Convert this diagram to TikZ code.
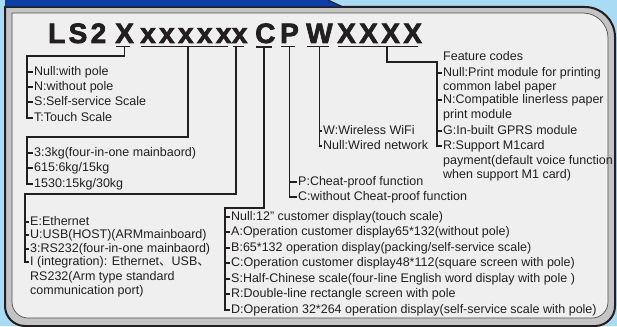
\documentclass[tikz,border=0pt]{standalone}
\usepackage{fontspec}
\setmainfont{Liberation Sans}
\newfontfamily\titlefont{Liberation Sans}[BoldFeatures={FakeBold=2.5, LetterSpace=12}]
\newfontfamily\cjk{Noto Sans CJK SC}
\usetikzlibrary{calc}

\definecolor{sky}{HTML}{A9DCF4}
\definecolor{tabblue}{HTML}{0B3EA6}
\definecolor{band}{HTML}{C4C4C4}
\definecolor{panel}{HTML}{EFEFEF}
\definecolor{ink}{HTML}{231F20}

\tikzset{
  code/.style={anchor=base west, inner xsep=0pt, inner ysep=3.5pt, text=ink,
    font=\titlefont\bfseries\fontsize{28}{30}\selectfont},
  item/.style={anchor=west, inner xsep=1pt, inner ysep=0pt, text=ink,
    text height=9pt, text depth=2.5pt, font=\fontsize{12.5}{15}\selectfont},
  wire/.style={draw=ink, line width=1.1pt},
}

\begin{document}
\begin{tikzpicture}[x=1pt,y=-1pt]
\useasboundingbox[fill=sky] (0,0) rectangle (617,326);
% frame
\draw[fill=band, draw=ink, line width=2pt] (5,7) -- (585,7) arc[start angle=270,end angle=360,radius=30]
  -- (615,306) arc[start angle=0,end angle=90,radius=20] -- (25,326) arc[start angle=90,end angle=180,radius=20] -- cycle;
\draw[fill=panel, draw=ink!80, line width=0.7pt] (12,13) -- (583,13) arc[start angle=270,end angle=360,radius=25]
  -- (608,302) arc[start angle=0,end angle=90,radius=16] -- (28,318) arc[start angle=90,end angle=180,radius=16] -- cycle;
\fill[tabblue] (5,0) -- (328,0) -- (343,6.5) -- (5,6.5) -- cycle;
\draw[ink, line width=1pt] (328,0) -- (343,7);

% model code
\node[code] (cLS) at (48,43) {LS2};
\node[code] (cX) at (115,43) {X};
\node[code] (cCap) at (140,43) {xxxxx};
\node[code] (cCom) at (cCap.base east) {x};
\node[code] (cC) at (255,43) {C};
\node[code] (cP) at (280,43) {P};
\node[code] (cW) at (306,43) {W};
\node[code] (cF) at (337,43) {XXXX};
\foreach \s in {cX,cCap,cCom,cC,cP,cW,cF}
  \draw[wire, shorten <=1pt, shorten >=4pt] (\s.south west) -- (\s.south east);

% pole
\coordinate (g1top) at (27,56);
\node[item] (g1a) at (33,72) {Null:with pole};
\node[item] (g1b) at (33,87) {N:without pole};
\node[item] (g1c) at (33,102) {S:Self-service Scale};
\node[item] (g1d) at (33,118) {T:Touch Scale};
\draw[wire] (cX.south) |- (g1top) |- (g1d.west);
\foreach \n in {g1a,g1b,g1c} \draw[wire] (\n.west) -- (\n.west -| g1top);

% capacity
\coordinate (g2turn) at (188,137);
\coordinate (g2top) at (27,137);
\node[item] (g2a) at (33,153) {3:3kg(four-in-one mainbaord)};
\node[item] (g2b) at (33,168) {615:6kg/15kg};
\node[item] (g2c) at (33,184) {1530:15kg/30kg};
\draw[wire] (cCap.south -| g2turn) -- (g2turn) -- (g2top) |- (g2c.west);
\foreach \n in {g2a,g2b} \draw[wire] (\n.west) -- (\n.west -| g2top);

% communication
\coordinate (g3turn) at (236,194);
\coordinate (g3top) at (25,194);
\node[item] (g3a) at (29,222) {E:Ethernet};
\node[item] (g3b) at (29,235) {U:USB(HOST)(ARMmainboard)};
\node[item] (g3c) at (29,249) {3:RS232(four-in-one mainbaord)};
\node[item] (g3d) at (29,262) {I (integration): Ethernet{\cjk 、}USB{\cjk 、}};
\node[item] (g3e) at (29,277) {RS232(Arm type standard};
\node[item] (g3f) at (29,291) {communication port)};
\draw[wire] (cCom.south -| g3turn) -- (g3turn) -- (g3top) |- (g3d.west);
\foreach \n in {g3a,g3b,g3c} \draw[wire] (\n.west) -- (\n.west -| g3top);

% display
\coordinate (g4turn) at (264,208);
\coordinate (g4top) at (225,208);
\node[item] (g4a) at (230,217) {Null:12" customer display(touch scale)};
\node[item] (g4b) at (230,232) {A:Operation customer display65*132(without pole)};
\node[item] (g4c) at (230,248) {B:65*132 operation display(packing/self-service scale)};
\node[item] (g4d) at (230,263) {C:Operation customer display48*112(square screen with pole)};
\node[item] (g4e) at (230,279) {S:Half-Chinese scale(four-line English word display with pole )};
\node[item] (g4f) at (230,294) {R:Double-line rectangle screen with pole};
\node[item] (g4g) at (230,310) {D:Operation 32*264 operation display(self-service scale with pole)};
\draw[wire] (cC.south -| g4turn) -- (g4turn) -- (g4top) |- (g4g.west);
\foreach \n in {g4a,g4b,g4c,g4d,g4e,g4f} \draw[wire] (\n.west) -- (\n.west -| g4top);

% cheat-proof
\node[item] (g5a) at (297,182) {P:Cheat-proof function};
\node[item] (g5b) at (297,197) {C:without Cheat-proof function};
\draw[wire] (cP.south) |- (g5b.west);
\draw[wire] (g5a.west) -- (g5a.west -| cP.south);

% network
\node[item] (g6a) at (322,131) {W:Wireless WiFi};
\node[item] (g6b) at (322,146) {Null:Wired network};
\draw[wire] (cW.south) |- (g6b.west);
\draw[wire] (g6a.west) -- (g6a.west -| cW.south);

% features
\coordinate (g7turn) at (387,62);
\coordinate (g7top) at (437,62);
\node[item] (g7h) at (442,57) {Feature codes};
\node[item] (g7a) at (442,73) {Null:Print module for printing};
\node[item] (g7a2) at (442,87) {common label paper};
\node[item] (g7b) at (442,100) {N:Compatible linerless paper};
\node[item] (g7b2) at (442,115) {print module};
\node[item] (g7c) at (442,131) {G:In-built GPRS module};
\node[item] (g7d) at (442,146) {R:Support M1card};
\node[item] (g7d2) at (442,161) {payment(default voice function};
\node[item] (g7d3) at (442,175) {when support M1 card)};
\draw[wire] (cF.south -| g7turn) -- (g7turn) -- (g7top) |- (g7d.west);
\foreach \n in {g7a,g7b,g7c} \draw[wire] (\n.west) -- (\n.west -| g7top);
\end{tikzpicture}
\end{document}
